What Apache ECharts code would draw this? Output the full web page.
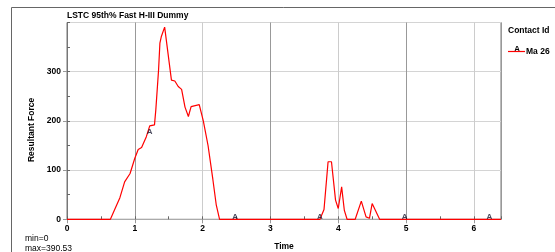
<!DOCTYPE html>
<html>
<head>
<meta charset="utf-8">
<script src="https://cdn.jsdelivr.net/npm/echarts@6/dist/echarts.min.js"></script>
<style>
    html, body { margin: 0; padding: 0; background: #fff; }
    #main { width: 555px; height: 252px; }
</style>
</head>
<body>
<div id="main"></div>
<script>
    // curve (time, resultant force)
    var time  = [0, 0.64, 0.70, 0.78, 0.85, 0.93, 1.00, 1.05, 1.10, 1.17, 1.22, 1.29, 1.31, 1.35, 1.37, 1.39, 1.44,
                 1.54, 1.59, 1.64, 1.69, 1.74, 1.79, 1.83, 1.95, 2.01, 2.08, 2.15, 2.20, 2.25,
                 3.73, 3.79, 3.85, 3.90, 3.96, 4.00, 4.05, 4.09, 4.13, 4.25, 4.34, 4.41, 4.46, 4.50, 4.61, 6.4];
    var force = [0, 0, 19, 44, 76, 93, 124, 142, 146, 168, 190, 192, 223, 303, 358, 371, 390.53,
                 283, 281, 270, 264, 228, 209, 229, 233, 200, 150, 82, 30, 0,
                 0, 20, 117, 117, 39, 22, 66, 18, 0, 0, 37, 5, 2, 32, 0, 0];
    // "A" symbols along the curve
    var markTime  = [1.22, 2.48, 3.73, 4.98, 6.23];
    var markForce = [172, 0, 0, 0, 0];
    var xTicks = [0, 1, 2, 3, 4, 5, 6];
    var yTicks = [0, 100, 200, 300];

    var font = 'Liberation Sans, Arial, sans-serif';
    var curve = time.map(function (t, i) { return [t, force[i]]; });
    var marks = markTime.map(function (t, i) { return [t, markForce[i]]; });
    var fMin = Math.min.apply(null, force);
    var fMax = Math.max.apply(null, force);

    var myChart = echarts.init(document.getElementById('main'));
    var option = {
        animation: false,
        textStyle: { fontFamily: font },
        title: [
            {
                text: 'LSTC 95th% Fast H-III Dummy',
                left: 67, top: 11, padding: 0,
                textStyle: { fontSize: 8.5, fontWeight: 'bold', color: '#000', fontFamily: font }
            },
            {
                text: 'Contact Id',
                left: 508, top: 26, padding: 0,
                textStyle: { fontSize: 8.5, fontWeight: 'bold', color: '#000', fontFamily: font }
            },
            {
                text: 'min=' + fMin + '\nmax=' + fMax,
                left: 25, top: 234, padding: 0,
                textStyle: { fontSize: 8.5, fontWeight: 'normal', color: '#000', lineHeight: 9.5, fontFamily: font }
            }
        ],
        legend: {
            data: ['Ma 26'],
            left: 508, top: 47, padding: 0,
            icon: 'rect', itemWidth: 17, itemHeight: 1.2, itemGap: 0,
            itemStyle: { color: '#ff0000' },
            textStyle: { fontSize: 8.5, fontWeight: 'bold', color: '#000', fontFamily: font, padding: [0, 0, 0, -4] }
        },
        graphic: [
            { type: 'rect', shape: { x: 11.5, y: 7.5, width: 700, height: 400 },
              style: { fill: 'none', stroke: '#666', lineWidth: 1 }, silent: true },
            { type: 'text', left: 514, top: 45,
              style: { text: 'A', font: 'bold 8.5px ' + font, fill: '#000' } }
        ],
        grid: {
            left: 67, right: 54, top: 22.5, bottom: 32.7, outerBoundsMode: 'none',
            show: true, borderColor: '#777', borderWidth: 1
        },
        xAxis: [
            {
                type: 'value', min: 0, max: 6.4, interval: 1,
                name: 'Time', nameLocation: 'middle', nameGap: 23,
                nameTextStyle: { fontSize: 8.5, fontWeight: 'bold', color: '#000', fontFamily: font },
                axisLine: { show: true, lineStyle: { color: '#aaa' } },
                axisTick: { show: true, length: 4, lineStyle: { color: '#999' } },
                axisLabel: {
                    fontSize: 8.5, fontWeight: 'bold', color: '#000', margin: 5, showMaxLabel: false,
                    formatter: function (v) { return xTicks.indexOf(v) >= 0 ? String(v) : ''; }
                },
                splitLine: { show: true, lineStyle: { color: ['#ccc', '#999'] } }
            },
            {
                type: 'value', min: 0, max: 6.4, interval: 0.5, position: 'bottom',
                axisLine: { show: false }, axisLabel: { show: false }, splitLine: { show: false },
                axisTick: { show: true, inside: true, length: 3, lineStyle: { color: '#666' } }
            }
        ],
        yAxis: [
            {
                type: 'value', min: 0, max: 400, interval: 100,
                name: 'Resultant Force', nameLocation: 'middle', nameGap: 31, nameRotate: 90,
                nameTextStyle: { fontSize: 8.5, fontWeight: 'bold', color: '#000', fontFamily: font, padding: [0, 18, 0, 0] },
                axisLine: { show: true, lineStyle: { color: '#777' } },
                axisTick: { show: true, length: 4, lineStyle: { color: '#999' } },
                axisLabel: {
                    fontSize: 8.5, fontWeight: 'bold', color: '#000', margin: 6, showMaxLabel: false,
                    formatter: function (v) { return yTicks.indexOf(v) >= 0 ? String(v) : ''; }
                },
                splitLine: { show: true, lineStyle: { color: '#d4d4d4' } }
            },
            {
                type: 'value', min: 0, max: 400, interval: 50, position: 'left',
                axisLine: { show: false }, axisLabel: { show: false }, splitLine: { show: false },
                axisTick: { show: true, inside: true, length: 3, lineStyle: { color: '#666' } }
            }
        ],
        series: [
            {
                name: 'Ma 26',
                type: 'line',
                data: curve,
                symbol: 'none',
                lineStyle: { color: '#ff0000', width: 1.2 },
                itemStyle: { color: '#ff0000' }
            },
            {
                name: 'marks',
                type: 'scatter',
                data: marks,
                symbolSize: 1,
                itemStyle: { color: 'rgba(0,0,0,0)' },
                label: {
                    show: true, position: 'inside', offset: [0, -3], formatter: 'A',
                    fontSize: 8, fontWeight: 'bold', color: '#1a1a33', fontFamily: font
                },
                z: 5
            }
        ]
    };
    myChart.setOption(option);
</script>
</body>
</html>
